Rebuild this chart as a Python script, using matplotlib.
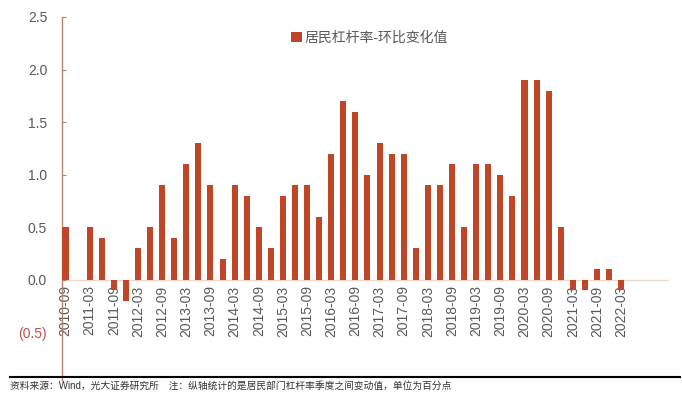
import matplotlib
matplotlib.use("Agg")
import matplotlib.pyplot as plt

plt.rcParams["font.family"] = ["Liberation Sans", "Noto Sans CJK SC"]

# quarterly change in household leverage ratio (pct points)
quarters = [
    "2010-09", "2010-12",
    "2011-03", "2011-06", "2011-09", "2011-12",
    "2012-03", "2012-06", "2012-09", "2012-12",
    "2013-03", "2013-06", "2013-09", "2013-12",
    "2014-03", "2014-06", "2014-09", "2014-12",
    "2015-03", "2015-06", "2015-09", "2015-12",
    "2016-03", "2016-06", "2016-09", "2016-12",
    "2017-03", "2017-06", "2017-09", "2017-12",
    "2018-03", "2018-06", "2018-09", "2018-12",
    "2019-03", "2019-06", "2019-09", "2019-12",
    "2020-03", "2020-06", "2020-09", "2020-12",
    "2021-03", "2021-06", "2021-09", "2021-12",
    "2022-03",
]
values = [
    0.5, 0.0,
    0.5, 0.4, -0.1, -0.2,
    0.3, 0.5, 0.9, 0.4,
    1.1, 1.3, 0.9, 0.2,
    0.9, 0.8, 0.5, 0.3,
    0.8, 0.9, 0.9, 0.6,
    1.2, 1.7, 1.6, 1.0,
    1.3, 1.2, 1.2, 0.3,
    0.9, 0.9, 1.1, 0.5,
    1.1, 1.1, 1.0, 0.8,
    1.9, 1.9, 1.8, 0.5,
    -0.1, -0.1, 0.1, 0.1,
    -0.1,
]
yticks = [-0.5, 0.0, 0.5, 1.0, 1.5, 2.0, 2.5]
ytick_labels = ["(0.5)", "0.0", "0.5", "1.0", "1.5", "2.0", "2.5"]
series_name = "居民杠杆率-环比变化值"
note = "资料来源：Wind，光大证券研究所　注：纵轴统计的是居民部门杠杆率季度之间变动值，单位为百分点"

bar_color = "#c0462a"
grey = "#595959"

fig = plt.figure(figsize=(6.82, 4.0), dpi=100)
ax = fig.add_axes([0.0916, 0.0506, 0.89, 0.9069])

# x labels hang right under the zero line
ax.spines["bottom"].set_position(("data", 0))
ax.spines["bottom"].set_visible(False)
for s in ["top", "right"]:
    ax.spines[s].set_visible(False)
ax.spines["left"].set_color("#b5836a")
ax.spines["left"].set_linewidth(1.0)

x = list(range(len(values)))
ax.bar(x, values, width=0.5, color=bar_color, label=series_name, zorder=3)
ax.axhline(0, color="#f2d6c6", lw=1.0, zorder=1)

ax.set_xlim(-0.25, 50)
ax.set_ylim(-0.95, 2.5)

ax.set_yticks(yticks)
ax.set_yticklabels(ytick_labels, fontsize=10, color=grey)
ax.get_yticklabels()[0].set_color("#c0504d")
ax.tick_params(axis="y", direction="in", length=3, color="#b5836a", pad=11)

ax.set_xticks(x[::2])
ax.set_xticklabels(quarters[::2], fontsize=10, color=grey)
ax.tick_params(axis="x", length=0, pad=4, labelrotation=90)

leg = ax.legend(loc="center left", bbox_to_anchor=(284 / 682, 1 - 38 / 400),
                bbox_transform=fig.transFigure, frameon=False, fontsize=10,
                handlelength=0.8, handleheight=0.8, handletextpad=0.2,
                borderpad=0)
for t in leg.get_texts():
    t.set_color(grey)

# footer rule and source note
fig.add_artist(plt.Line2D([10 / 682, 680 / 682], [1 - 377 / 400, 1 - 377 / 400],
                          transform=fig.transFigure, color="black", lw=1.5))
fig.text(10 / 682, 1 - 386 / 400, note, fontsize=7, color="#333333", va="center")

fig.savefig("out.png", dpi=100)
